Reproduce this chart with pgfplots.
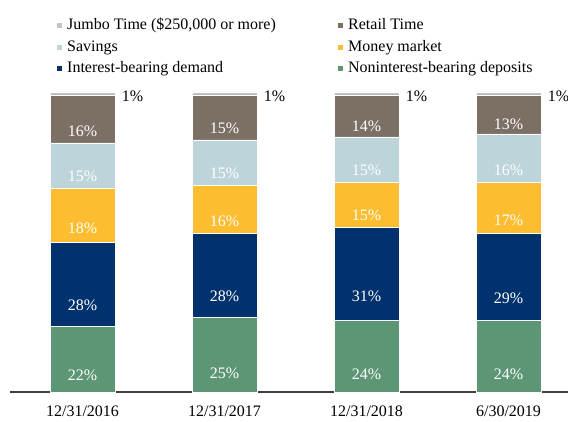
\documentclass[border=0pt]{standalone}
\usepackage{fontspec}
\setmainfont{Liberation Serif}
\usepackage{pgfplots}
\usepackage{pgfplotstable}
\pgfplotsset{compat=1.18}
\definecolor{cJumbo}{RGB}{196,196,196}
\definecolor{cRetail}{RGB}{124,111,100}
\definecolor{cSav}{RGB}{189,212,218}
\definecolor{cMM}{RGB}{252,190,48}
\definecolor{cInt}{RGB}{2,50,110}
\definecolor{cNon}{RGB}{92,150,116}
\pgfplotstableread{
x non int mm sav ret jum
0 22 28 18 15 16 1
1 25 28 16 15 15 1
2 24 31 15 15 14 1
3 24 29 17 16 13 1
}\data
\pgfplotsset{
  seg/.style={
    fill=#1, draw=white, line width=0.8pt,
    nodes near coords={\pgfmathprintnumber[fixed,precision=0,assume math mode=true]{\segval}\%},
    every node near coord/.append style={anchor=center, inner sep=0pt, text=white,
      font=\fontsize{16}{18}\selectfont, yshift={-\segval*0.75pt}},
  },
}
\begin{document}
\begin{tikzpicture}
\path[use as bounding box] (0,0) rectangle (568pt,421pt);
\begin{axis}[
  at={(10pt,29pt)}, anchor=south west,
  scale only axis, width=558pt, height=300pt,
  xmin=-0.5106, xmax=3.419, ymin=0, ymax=100,
  ybar stacked, bar width=65pt,
  clip=false,
  axis y line=none,
  axis x line*=bottom,
  axis line style={draw=black!75, line width=1.6pt, -},
  xtick={0,1,2,3},
  xticklabels={12/31/2016,12/31/2017,12/31/2018,6/30/2019},
  major tick length=0pt,
  xticklabel style={font=\fontsize{16}{18}\selectfont, inner sep=0pt, anchor=north, yshift=-14pt},
  reverse legend,
  legend columns=2,
  legend cell align=left,
  legend image code/.code={\path[#1, draw=none] (0pt,-2.5pt) rectangle (5pt,2.5pt);},
  legend style={draw=none, fill=none, inner sep=0pt,
    at={(rel axis cs:0.0842,1.245)}, anchor=north west,
    font=\fontsize{16}{18}\selectfont,
    nodes={inner sep=0pt, text height=11pt, text depth=3.5pt},
    row sep=7pt,
    /tikz/every odd column/.append style={column sep=5pt},
  },
]
\addplot+[seg=cNon, visualization depends on={\thisrow{non} \as \segval}] table[x=x, y=non] {\data};
\addlegendentry{Noninterest-bearing deposits}
\addplot+[seg=cInt, visualization depends on={\thisrow{int} \as \segval}] table[x=x, y=int] {\data};
\addlegendentry{\makebox[271pt][l]{Interest-bearing demand}}
\addplot+[seg=cMM, visualization depends on={\thisrow{mm} \as \segval}] table[x=x, y=mm] {\data};
\addlegendentry{Money market}
\addplot+[seg=cSav, visualization depends on={\thisrow{sav} \as \segval}] table[x=x, y=sav] {\data};
\addlegendentry{\makebox[271pt][l]{Savings}}
\addplot+[seg=cRetail, visualization depends on={\thisrow{ret} \as \segval}] table[x=x, y=ret] {\data};
\addlegendentry{Retail Time}
\addplot+[fill=cJumbo, draw=white, line width=0.8pt,
  visualization depends on={\thisrow{jum} \as \segval},
  nodes near coords={\pgfmathprintnumber[fixed,precision=0,assume math mode=true]{\segval}\%},
  every node near coord/.append style={anchor=west, inner sep=0pt, text=black,
    font=\fontsize{16}{18}\selectfont, xshift=39pt, yshift=-3pt}] table[x=x, y=jum] {\data};
\addlegendentry{\makebox[271pt][l]{Jumbo Time (\$250,000 or more)}}
\end{axis}
\end{tikzpicture}
\end{document}
